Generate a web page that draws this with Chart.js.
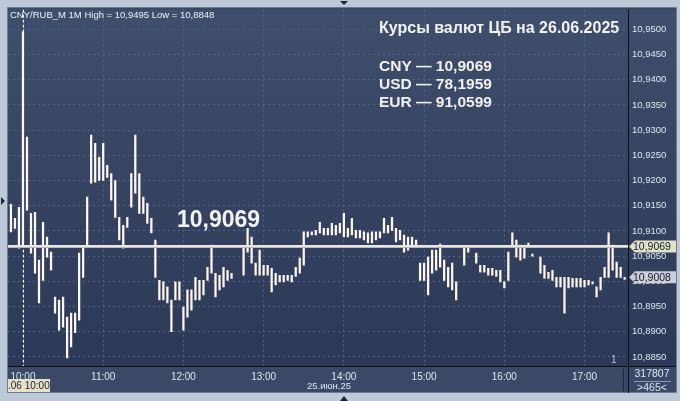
<!DOCTYPE html>
<html>
<head>
<meta charset="utf-8">
<script src="https://cdn.jsdelivr.net/npm/chart.js@4.4.1/dist/chart.umd.min.js"></script>
<style>
html, body { margin: 0; padding: 0; background: #bdc9d8; }
#wrap { width: 680px; height: 401px; }
</style>
</head>
<body>
<div id="wrap"><canvas id="myChart" width="680" height="401"></canvas></div>
<script>
// 3-minute bars, CNY/RUB_M, 25.06.25
const times = [
    '09:51', '09:54', '09:57',
    '10:00', '10:03', '10:06', '10:09', '10:12', '10:15', '10:18', '10:21', '10:24', '10:27',
    '10:30', '10:33', '10:36', '10:39', '10:42', '10:45', '10:48', '10:51', '10:54', '10:57',
    '11:00', '11:03', '11:06', '11:09', '11:12', '11:15', '11:18', '11:21', '11:24', '11:27',
    '11:30', '11:33', '11:36', '11:39', '11:42', '11:45', '11:48', '11:51', '11:54', '11:57',
    '12:00', '12:03', '12:06', '12:09', '12:12', '12:15', '12:18', '12:21', '12:24', '12:27',
    '12:30', '12:33', '12:36', '12:39', '12:42', '12:45', '12:48', '12:51', '12:54', '12:57',
    '13:00', '13:03', '13:06', '13:09', '13:12', '13:15', '13:18', '13:21', '13:24', '13:27',
    '13:30', '13:33', '13:36', '13:39', '13:42', '13:45', '13:48', '13:51', '13:54', '13:57',
    '14:00', '14:03', '14:06', '14:09', '14:12', '14:15', '14:18', '14:21', '14:24', '14:27',
    '14:30', '14:33', '14:36', '14:39', '14:42', '14:45', '14:48', '14:51', '14:54', '14:57',
    '15:00', '15:03', '15:06', '15:09', '15:12', '15:15', '15:18', '15:21', '15:24', '15:27',
    '15:30', '15:33', '15:36', '15:39', '15:42', '15:45', '15:48', '15:51', '15:54', '15:57',
    '16:00', '16:03', '16:06', '16:09', '16:12', '16:15', '16:18', '16:21', '16:24', '16:27',
    '16:30', '16:33', '16:36', '16:39', '16:42', '16:45', '16:48', '16:51', '16:54', '16:57',
    '17:00', '17:03', '17:06', '17:09', '17:12', '17:15', '17:18', '17:21', '17:24', '17:27',
    '17:30'
];

const highs = [
    10.9153, 10.9125, 10.9147,
    10.9495, 10.9286, 10.9135, 10.9137, 10.9042, 10.9117, 10.9088, 10.9058, 10.8969, 10.8963,
    10.8969, 10.8929, 10.8937, 10.8937, 10.9056, 10.9068, 10.9167, 10.9290, 10.9274, 10.9246,
    10.9274, 10.9230, 10.9214, 10.9200, 10.9127, 10.9111, 10.9127, 10.9214, 10.9290, 10.9214,
    10.9167, 10.9155, 10.9125, 10.9082, 10.9002, 10.8999, 10.8989, 10.8963, 10.8999, 10.8999,
    10.8949, 10.8983, 10.8983, 10.9008, 10.9002, 10.9002, 10.9028, 10.9072, 10.9016, 10.9012,
    10.9028, 10.9022, 10.9016, null, null, 10.9068, 10.9105, 10.9088, 10.9036, 10.9062,
    10.9032, 10.9032, 10.9026, 10.9016, 10.9012, 10.9012, 10.9012, 10.9012, 10.9028, 10.9046,
    10.9098, 10.9098, 10.9098, 10.9101, 10.9117, 10.9105, 10.9105, 10.9115, 10.9111, 10.9115,
    10.9135, 10.9105, 10.9125, 10.9101, 10.9101, 10.9098, 10.9096, 10.9098, 10.9098, 10.9098,
    10.9125, 10.9111, 10.9127, 10.9105, 10.9101, 10.9092, 10.9088, 10.9088, 10.9082, 10.9036,
    10.9036, 10.9048, 10.9062, 10.9062, 10.9074, 10.9042, 10.9028, 10.9036, 10.8999, null,
    10.9068, 10.9068, null, 10.9056, 10.9032, 10.9032, 10.9026, 10.9026, 10.9022, 10.9022,
    10.8999, 10.9058, 10.9096, 10.9082, 10.9072, 10.9072, 10.9076, 10.9054, null, 10.9048,
    10.9032, 10.9018, 10.9022, 10.9008, 10.9008, 10.9008, 10.9008, 10.9006, 10.9006, 10.9006,
    10.9002, 10.9002, 10.8999, 10.8989, 10.9008, 10.9028, 10.9096, 10.9072, 10.9038, 10.9028,
    10.9008
];

const lows = [
    10.9098, 10.9105, 10.9066,
    10.9068, 10.9141, 10.9056, 10.9016, 10.8957, 10.9002, 10.9048, 10.9022, 10.8937, 10.8903,
    10.8909, 10.8848, 10.8870, 10.8898, 10.8923, 10.9008, 10.9068, 10.9195, 10.9197, 10.9200,
    10.9200, 10.9206, 10.9161, 10.9127, 10.9082, 10.9066, 10.9107, 10.9147, 10.9175, 10.9135,
    10.9135, 10.9115, 10.9096, 10.9008, 10.8963, 10.8963, 10.8957, 10.8900, 10.8963, 10.8963,
    10.8903, 10.8929, 10.8943, 10.8963, 10.8963, 10.8973, 10.9002, 10.9016, 10.8969, 10.8983,
    10.8989, 10.9002, 10.9006, null, null, 10.9012, 10.9058, 10.9036, 10.9012, 10.9012,
    10.9012, 10.9012, 10.8979, 10.8993, 10.8999, 10.8999, 10.9002, 10.8999, 10.9010, 10.9016,
    10.9032, 10.9088, 10.9092, 10.9092, 10.9096, 10.9092, 10.9092, 10.9092, 10.9092, 10.9096,
    10.9088, 10.9088, 10.9092, 10.9086, 10.9086, 10.9082, 10.9076, 10.9076, 10.9082, 10.9086,
    10.9096, 10.9096, 10.9101, 10.9078, 10.9082, 10.9058, 10.9062, 10.9068, 10.9068, 10.9002,
    10.9002, 10.8973, 10.9016, 10.9022, 10.9028, 10.9002, 10.8989, 10.8983, 10.8963, null,
    10.9032, 10.9058, null, 10.9036, 10.9018, 10.9018, 10.9012, 10.9012, 10.9010, 10.8999,
    10.8987, 10.9002, 10.9068, 10.9048, 10.9042, 10.9046, 10.9068, 10.9050, null, 10.9016,
    10.9006, 10.9006, 10.9002, 10.8989, 10.8989, 10.8937, 10.8987, 10.8989, 10.8989, 10.8989,
    10.8989, 10.8993, 10.8995, 10.8969, 10.8983, 10.9008, 10.9008, 10.9022, 10.9008, 10.9008,
    10.9004
];

const hourTicks = ['10:00', '11:00', '12:00', '13:00', '14:00', '15:00', '16:00', '17:00'];
const priceTicks = [10.8850, 10.8900, 10.8950, 10.9000, 10.9050, 10.9100, 10.9150, 10.9200,
    10.9250, 10.9300, 10.9350, 10.9400, 10.9450, 10.9500];

const cbRate = 10.9069;
const lastClose = 10.9008;
const cursorTime = '10:00';
const rateNames = ['CNY', 'USD', 'EUR'];
const rateValues = ['10,9069', '78,1959', '91,0599'];

const FONT = '"Liberation Sans", Arial, sans-serif';

function toMinutes(t) {
    const p = t.split(':');
    return (Number(p[0]) - 10) * 60 + Number(p[1]);
}

function fmt(v) {
    return v.toFixed(4).replace('.', ',');
}

const bars = times.map(function (t, i) {
    return { x: toMinutes(t), y: highs[i] === null ? null : [lows[i], highs[i]] };
});

function tag(ctx, y, text, bg) {
    ctx.fillStyle = bg;
    ctx.beginPath();
    ctx.moveTo(629, y);
    ctx.lineTo(635, y - 6);
    ctx.lineTo(676, y - 6);
    ctx.lineTo(676, y + 6);
    ctx.lineTo(635, y + 6);
    ctx.closePath();
    ctx.fill();
    ctx.fillStyle = '#151a2a';
    ctx.font = '10.5px ' + FONT;
    ctx.textAlign = 'left';
    ctx.textBaseline = 'middle';
    ctx.fillText(text, 633, y + 0.5);
}

const frame = {
    id: 'frame',
    beforeDraw(chart) {
        const ctx = chart.ctx;
        const a = chart.chartArea;
        ctx.save();
        ctx.fillStyle = '#bdc9d8';
        ctx.fillRect(0, 0, 680, 401);

        // little arrows on the frame
        ctx.fillStyle = '#1c2638';
        ctx.beginPath();
        ctx.moveTo(340, 1); ctx.lineTo(348, 1); ctx.lineTo(344, 5); ctx.closePath(); ctx.fill();
        ctx.beginPath();
        ctx.moveTo(340, 401); ctx.lineTo(348, 401); ctx.lineTo(344, 396); ctx.closePath(); ctx.fill();
        ctx.beginPath();
        ctx.moveTo(1, 197); ctx.lineTo(1, 205); ctx.lineTo(5, 201); ctx.closePath(); ctx.fill();

        ctx.fillStyle = '#3b4967';
        ctx.fillRect(8, 8, 668, 385);
        const g = ctx.createLinearGradient(0, a.top, 0, a.bottom);
        g.addColorStop(0, '#3f4e6b');
        g.addColorStop(1, '#2c3856');
        ctx.fillStyle = g;
        ctx.fillRect(a.left, a.top, 676 - a.left, a.bottom - a.top);

        ctx.strokeStyle = '#6d7c95';
        ctx.lineWidth = 1;
        ctx.strokeRect(7.5, 7.5, 669, 385);

        ctx.strokeStyle = '#0c0f18';
        ctx.beginPath();
        ctx.moveTo(a.right + 0.5, a.top);
        ctx.lineTo(a.right + 0.5, 393);
        ctx.moveTo(8, a.bottom + 0.5);
        ctx.lineTo(676, a.bottom + 0.5);
        ctx.stroke();

        ctx.strokeStyle = '#1e2636';
        ctx.beginPath();
        ctx.moveTo(623.5, 369);
        ctx.lineTo(623.5, 391);
        ctx.stroke();
        ctx.restore();
    }
};

const overlay = {
    id: 'overlay',
    afterDatasetsDraw(chart) {
        const ctx = chart.ctx;
        const a = chart.chartArea;
        const xs = chart.scales.x;
        const ys = chart.scales.y;
        ctx.save();

        // cursor line
        const cx = Math.round(xs.getPixelForValue(toMinutes(cursorTime))) + 0.5;
        ctx.strokeStyle = '#f4f4f4';
        ctx.setLineDash([3, 2]);
        ctx.beginPath();
        ctx.moveTo(cx, a.top);
        ctx.lineTo(cx, a.bottom);
        ctx.stroke();
        ctx.setLineDash([]);

        // central bank rate line
        const ry = ys.getPixelForValue(cbRate);
        ctx.strokeStyle = '#b9b9bd';
        ctx.lineWidth = 3;
        ctx.beginPath();
        ctx.moveTo(a.left, ry);
        ctx.lineTo(a.right, ry);
        ctx.stroke();
        ctx.strokeStyle = '#f6f6f6';
        ctx.lineWidth = 1.5;
        ctx.beginPath();
        ctx.moveTo(a.left, ry - 0.5);
        ctx.lineTo(a.right, ry - 0.5);
        ctx.stroke();

        // texts on the plot
        ctx.fillStyle = '#f2f2f2';
        ctx.textAlign = 'left';
        ctx.textBaseline = 'alphabetic';
        ctx.font = 'bold 23px ' + FONT;
        ctx.fillText(fmt(cbRate), 177, 227);

        ctx.font = 'bold 16px ' + FONT;
        ctx.fillText('Курсы валют ЦБ на 26.06.2025', 379, 33);
        ctx.font = 'bold 15.5px ' + FONT;
        rateNames.forEach(function (name, i) {
            ctx.fillText(name + ' — ' + rateValues[i], 379, 71 + i * 18);
        });

        ctx.font = '9.5px ' + FONT;
        ctx.fillStyle = '#eef2f8';
        ctx.fillText('CNY/RUB_M 1M High = ' + fmt(Math.max.apply(null, highs)) +
            ' Low = ' + fmt(Math.min.apply(null, lows.filter(function (v) { return v !== null; }))), 10, 18);

        ctx.fillStyle = '#b8c4d6';
        ctx.font = '10px ' + FONT;
        ctx.fillText('1', 611, 363);

        // price tags on the right axis
        tag(ctx, ry, fmt(cbRate), '#dfe1c8');
        tag(ctx, ys.getPixelForValue(lastClose), fmt(lastClose), '#c9ced8');

        // bottom axis extras
        ctx.fillStyle = '#e4e1c6';
        ctx.fillRect(8, 379, 42, 13);
        ctx.fillStyle = '#1a2236';
        ctx.font = '10px ' + FONT;
        ctx.textBaseline = 'middle';
        ctx.fillText('.06 10:00', 8, 386);

        ctx.fillStyle = '#dce6f2';
        ctx.textAlign = 'center';
        ctx.font = '9.5px ' + FONT;
        ctx.fillText('25.июн.25', 329, 386);
        ctx.font = '10.5px ' + FONT;
        ctx.fillText('317807', 652, 374);
        ctx.fillText('>465<', 652, 388);
        ctx.strokeStyle = '#8a98b0';
        ctx.lineWidth = 1;
        ctx.beginPath();
        ctx.moveTo(634, 381.5);
        ctx.lineTo(671, 381.5);
        ctx.stroke();

        ctx.restore();
    }
};

new Chart(document.getElementById('myChart'), {
    type: 'bar',
    data: {
        datasets: [{
            data: bars,
            backgroundColor: '#fff6f0',
            borderWidth: 0,
            barThickness: 1.6,
            minBarLength: 1
        }]
    },
    options: {
        responsive: false,
        animation: false,
        devicePixelRatio: 1,
        layout: { padding: { left: 8, top: 9, right: 4, bottom: 9 } },
        plugins: { legend: { display: false }, tooltip: { enabled: false } },
        scales: {
            x: {
                type: 'linear',
                offset: false,
                min: -11.2,
                max: 452.5,
                afterBuildTicks: function (scale) {
                    scale.ticks = hourTicks.map(function (t) { return { value: toMinutes(t) }; });
                },
                afterFit: function (scale) { scale.height = 26; },
                ticks: {
                    autoSkip: false,
                    maxRotation: 0,
                    padding: 5,
                    color: '#dce6f2',
                    font: { family: FONT, size: 10 },
                    callback: function (v, i) { return hourTicks[i]; }
                },
                grid: { color: '#55648a', drawTicks: false, offset: false },
                border: { display: false, dash: [2, 3] }
            },
            y: {
                position: 'right',
                min: 10.8832,
                max: 10.9539,
                afterBuildTicks: function (scale) {
                    scale.ticks = priceTicks.map(function (v) { return { value: v }; });
                },
                afterFit: function (scale) { scale.width = 48; },
                ticks: {
                    padding: 4,
                    color: '#dce6f2',
                    font: { family: FONT, size: 9.5 },
                    callback: function (v) { return fmt(v); }
                },
                grid: { color: '#55648a', drawTicks: false },
                border: { display: false, dash: [2, 3] }
            }
        }
    },
    plugins: [frame, overlay]
});
</script>
</body>
</html>
